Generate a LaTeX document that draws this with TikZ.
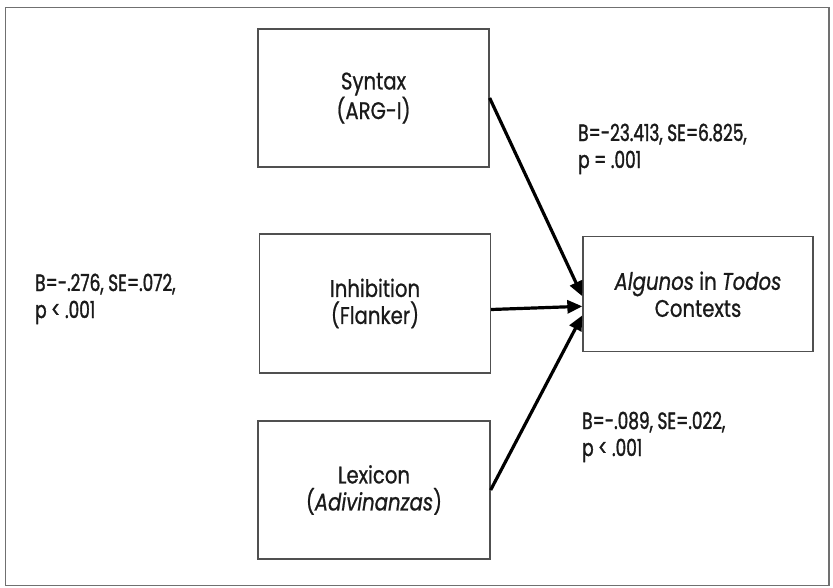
\documentclass[tikz,border=0pt]{standalone}
\usepackage{fontspec}
\setmainfont{Poppins}
\newfontfamily\boxfont[FakeStretch=0.82,FakeBold=0.8]{Poppins}
\newfontfamily\statfont[FakeStretch=0.72,FakeBold=1.4]{Poppins}
\usetikzlibrary{arrows.meta}
\definecolor{boxgray}{HTML}{505050}
\definecolor{framegray}{HTML}{707070}
\definecolor{textcol}{HTML}{1A1A1A}
\begin{document}
\begin{tikzpicture}[x=1pt,y=-1pt,
  box/.style={draw=boxgray,line width=1.3pt,minimum width=231pt,minimum height=138pt,inner sep=0pt,align=center,
    font=\boxfont\fontsize{24}{27}\selectfont,text=textcol},
  stat/.style={align=left,anchor=base west,inner sep=0pt,font=\statfont\fontsize{23.5}{27}\selectfont,text=textcol},
  link/.style={line width=3.2pt,-{Triangle[length=15pt,width=13pt]}}]
\useasboundingbox (0,0) rectangle (833,587);
\draw[framegray,line width=1.5pt] (5.5,7.5) rectangle (829,585.5);

\node[box] (syn) at (373.5,98) {Syntax\\(ARG-I)};
\node[box,minimum height=139pt] (inh) at (375,303.5) {Inhibition\\(Flanker)};
\node[box,minimum width=232pt] (lex) at (374,490) {Lexicon\\(\textit{Adivinanzas})};
\node[box,minimum width=230pt,minimum height=115pt] (tgt) at (698,294.3) {\textit{Algunos} in \textit{Todos}\\Contexts};

\node[stat] (s1) at (578,168) {B=-23.413, SE=6.825,\\p = .001};
\node[stat] (s2) at (35,318) {B=-.276, SE=.072,\\p < .001};
\node[stat] (s3) at (582,456) {B=-.089, SE=.022,\\p < .001};

\draw[link] (syn.east) -- ([yshift=-2pt]tgt.west);
\draw[link] ([yshift=-6pt]inh.east) -- ([yshift=-12pt]tgt.west);
\draw[link] (lex.east) -- ([yshift=-21pt]tgt.west);
\end{tikzpicture}
\end{document}
